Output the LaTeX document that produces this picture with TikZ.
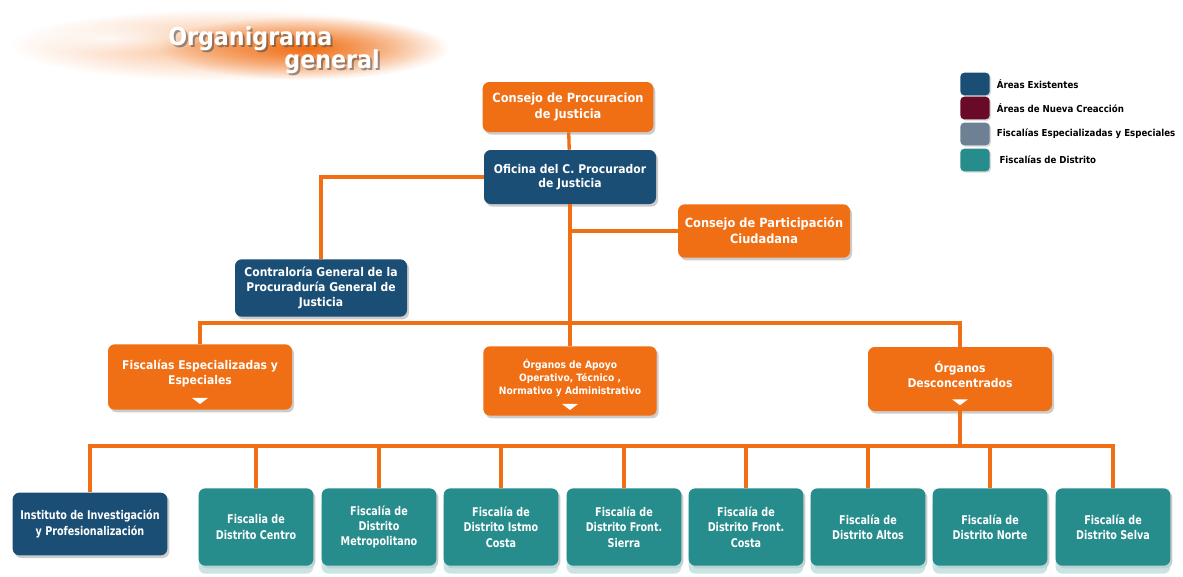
\documentclass[tikz,border=0pt]{standalone}
\usepackage{fontspec}
\setmainfont{DejaVu Sans}[FakeStretch=0.9]
\newfontfamily\narrowfont{DejaVu Sans}[FakeStretch=0.8]
\usetikzlibrary{shadows,positioning,fadings}

\definecolor{orgc}{RGB}{240,110,20}
\definecolor{bluec}{RGB}{27,78,117}
\definecolor{tealc}{RGB}{38,140,140}
\definecolor{maroonc}{RGB}{105,10,40}
\definecolor{greyc}{RGB}{110,128,148}

\tikzfading[name=glow, inner color=transparent!0, outer color=transparent!100]

% white down mark at the bottom of a box
\newcommand\downmark[1]{\fill[white] ([shift={(-8,-12)}]#1.south) -- ++(16,0) -- ++(-8,6) -- cycle;}

\tikzset{
  box/.style={rounded corners=5pt, align=center, text=white, inner sep=2pt,
    font=\bfseries\fontsize{9}{11}\selectfont,
    drop shadow={shadow xshift=1.5pt, shadow yshift=-2pt, opacity=0.4}},
  orgbox/.style={box, fill=orgc},
  bluebox/.style={box, fill=bluec},
  distbox/.style={box, fill=tealc, minimum width=86pt, minimum height=58pt,
    font=\narrowfont\bfseries\fontsize{9}{11.5}\selectfont,
    general shadow={fill=tealc!35, shadow yshift=-6pt, opacity=0.7}},
  link/.style={draw=orgc, line width=2.5pt},
  keybox/.style={rounded corners=3pt, minimum width=22pt, minimum height=17pt,
    drop shadow={shadow xshift=1pt, shadow yshift=-1pt, opacity=0.3}},
  keytext/.style={font=\bfseries\fontsize{7.2}{8}\selectfont, inner sep=0pt},
  banner/.style={font=\bfseries\fontsize{18.5}{19}\selectfont, inner sep=0pt}
}

\begin{document}
\begin{tikzpicture}[x=0.75pt, y=-0.75pt]
\useasboundingbox (0,0) rectangle (1183,576);

% title
\fill[orgc!50, path fading=glow] (225,45) ellipse (215 and 36);
\fill[orgc, path fading=glow] (305,48) ellipse (145 and 32);
\fill[white, path fading=glow, opacity=0.8] (110,38) ellipse (95 and 16);
\node[banner, text=black!70, opacity=0.55, anchor=base west] at (170,47) {Organigrama};
\node[banner, text=black!70, opacity=0.55, anchor=base east] at (382,70) {general};
\node[banner, text=white, anchor=base west] (ttl) at (168,45) {Organigrama};
\node[banner, text=white, anchor=base east] (sub) at (380,68) {general};

% legend
\node[keybox, fill=bluec] (k1) at (975,84) {};
\node[keybox, fill=maroonc] (k2) at (975,108) {};
\node[keybox, fill=greyc] (k3) at (975,134) {};
\node[keybox, fill=tealc] (k4) at (975,160) {};
\node[keytext, right=5pt of k1] {Áreas Existentes};
\node[keytext, right=5pt of k2] {Áreas de Nueva Creacción};
\node[keytext, right=5pt of k3] {Fiscalías Especializadas y Especiales};
\node[keytext, right=7pt of k4] {Fiscalías de Distrito};

% upper levels
\node[orgbox, minimum width=128pt, minimum height=37.5pt, font=\bfseries\fontsize{9.5}{12}\selectfont]
  (cpj) at (568,107) {Consejo de Procuracion\\de Justicia};
\node[bluebox, minimum width=129pt, minimum height=40.5pt]
  (ocp) at (570,177) {Oficina del C. Procurador\\de Justicia};
\node[orgbox, minimum width=129pt, minimum height=40pt, font=\bfseries\fontsize{9.5}{12}\selectfont]
  (cpc) at (764,231) {Consejo de Participación\\Ciudadana};
\node[bluebox, minimum width=129pt, minimum height=43pt]
  (cgp) at (321,288) {Contraloría General de la\\Procuraduría General de\\Justicia};
\node[orgbox, minimum width=138pt, minimum height=49pt]
  (fee) at (200,377) {Fiscalías Especializadas y\\Especiales\\[-4pt]\mbox{}};
\node[orgbox, minimum width=130pt, minimum height=52pt, font=\bfseries\fontsize{7.6}{9.8}\selectfont]
  (oao) at (570,381) {Órganos de Apoyo\\Operativo, Técnico ,\\Normativo y Administrativo\\[-4pt]\mbox{}};
\node[orgbox, minimum width=138pt, minimum height=48pt]
  (odc) at (960,379) {Órganos\\Desconcentrados\\[-4pt]\mbox{}};
\downmark{fee}
\downmark{oao}
\downmark{odc}

% bottom row
\node[bluebox, minimum width=116pt, minimum height=47pt, font=\narrowfont\bfseries\fontsize{9}{11.5}\selectfont]
  (iip) at (90,524) {Instituto de Investigación\\y Profesionalización};
\node[distbox] (fdc) at (256,527) {Fiscalia de\\Distrito Centro};
\node[distbox] (fdm) at (379,527) {Fiscalía de\\Distrito\\Metropolitano};
\node[distbox] (fdi) at (501,527) {Fiscalía de\\Distrito Istmo\\Costa};
\node[distbox] (fds) at (624,527) {Fiscalía de\\Distrito Front.\\Sierra};
\node[distbox] (fdf) at (746,527) {Fiscalía de\\Distrito Front.\\Costa};
\node[distbox] (fda) at (868,527) {Fiscalía de\\Distrito Altos};
\node[distbox] (fdn) at (990,527) {Fiscalía de\\Distrito Norte};
\node[distbox] (fdv) at (1113,527) {Fiscalía de\\Distrito Selva};

% connectors
\coordinate (hub) at (570,323);
\coordinate (bus) at (960,446);
\draw[link] (cpj) -- (ocp);
\draw[link] (ocp.west) -| (cgp.north);
\draw[link] (ocp) -- (hub);
\draw[link] (hub |- cpc.west) -- (cpc.west);
\draw[link] (fee.north) |- (hub) -| (odc.north);
\draw[link] (hub) -- (oao);
\draw[link] (odc) -- (bus);
\draw[link] (iip.north) |- (bus) -| (fdv.north);
\foreach \n in {fdc,fdm,fdi,fds,fdf,fda,fdn}
  \draw[link] (bus) -| (\n.north);
\end{tikzpicture}
\end{document}
